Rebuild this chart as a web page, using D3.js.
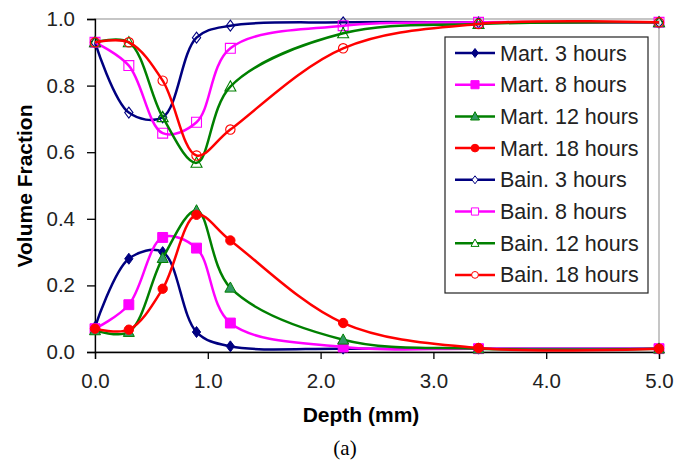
<!DOCTYPE html>
<html>
<head>
<meta charset="utf-8">
<script src="https://cdn.jsdelivr.net/npm/d3@7/dist/d3.min.js"></script>
<style>
  body { margin: 0; background: #fff; }
  text { font-family: "Liberation Sans", Arial, sans-serif; }
</style>
</head>
<body>
<div id="chart"></div>
<script>
// depth of each measurement (mm)
const depth = [0, 0.3, 0.6, 0.9, 1.2, 2.2, 3.4, 5.0];

// martensite volume fraction
const mart3  = [0.075, 0.28, 0.30, 0.06, 0.017, 0.01, 0.01, 0.01];
const mart8  = [0.07, 0.142, 0.344, 0.312, 0.087, 0.015, 0.01, 0.01];
const mart12 = [0.065, 0.06, 0.282, 0.425, 0.193, 0.037, 0.01, 0.01];
const mart18 = [0.07, 0.067, 0.19, 0.412, 0.335, 0.087, 0.012, 0.01];

// bainite volume fraction
const bain3  = [0.93, 0.719, 0.705, 0.944, 0.98, 0.99, 0.99, 0.99];
const bain8  = [0.93, 0.86, 0.657, 0.69, 0.912, 0.98, 0.99, 0.99];
const bain12 = [0.93, 0.93, 0.705, 0.568, 0.797, 0.957, 0.985, 0.99];
const bain18 = [0.93, 0.93, 0.815, 0.59, 0.668, 0.912, 0.985, 0.99];

const seriesNames = ["Mart. 3 hours", "Mart. 8 hours", "Mart. 12 hours", "Mart. 18 hours",
                     "Bain. 3 hours", "Bain. 8 hours", "Bain. 12 hours", "Bain. 18 hours"];
const xTicks = [0, 1, 2, 3, 4, 5];
const yTicks = [0, 0.2, 0.4, 0.6, 0.8, 1.0];

const width = 689, height = 465;
const margin = {top: 19, right: 30, bottom: 113, left: 95};

const svg = d3.select("#chart").append("svg")
    .attr("width", width)
    .attr("height", height);

const x = d3.scaleLinear().domain([0, 5]).range([margin.left, width - margin.right]);
const y = d3.scaleLinear().domain([0, 1]).range([height - margin.bottom, margin.top]);

const values = [mart3, mart8, mart12, mart18, bain3, bain8, bain12, bain18];
const colors = ["#000080", "#ff00ff", "#008000", "#ff0000", "#000080", "#ff00ff", "#008000", "#ff0000"];
const fills  = ["#000080", "#ff00ff", "#339966", "#ff0000", "none", "none", "none", "none"];
const shapes = ["diamond", "square", "triangle", "circle", "diamond", "square", "triangle", "circle"];

const series = seriesNames.map((name, i) => ({
    name: name,
    color: colors[i],
    fill: fills[i],
    shape: shapes[i],
    points: depth.map((d, j) => ({x: d, y: values[i][j]}))
}));

function markerPath(shape, r){
    if(shape === "diamond") return `M0,${-r}L${r*0.75},0L0,${r}L${-r*0.75},0Z`;
    if(shape === "square") return `M${-r*0.9},${-r*0.9}H${r*0.9}V${r*0.9}H${-r*0.9}Z`;
    if(shape === "triangle") return `M0,${-r*1.05}L${r},${r*0.8}L${-r},${r*0.8}Z`;
    return d3.arc()({innerRadius: 0, outerRadius: r*0.85, startAngle: 0, endAngle: 2*Math.PI});
}

// plot area border (gray top / right)
svg.append("rect")
    .attr("x", x(0)).attr("y", y(1))
    .attr("width", x(5) - x(0)).attr("height", y(0) - y(1))
    .attr("fill", "none").attr("stroke", "#a0a0a0").attr("stroke-width", 1.2);

// Add X axis
const xAxis = svg.append("g")
    .attr("transform", "translate(0," + y(0) + ")")
    .call(d3.axisBottom(x).tickValues(xTicks).tickFormat(d3.format(".1f")).tickSize(7).tickPadding(14));

// Add Y axis
const yAxis = svg.append("g")
    .attr("transform", "translate(" + x(0) + ",0)")
    .call(d3.axisLeft(y).tickValues(yTicks).tickFormat(d3.format(".1f")).tickSize(8).tickPadding(12));

[xAxis, yAxis].forEach(a => {
    a.select(".domain").attr("stroke", "#000").attr("stroke-width", 1.3);
    a.selectAll(".tick line").attr("stroke", "#000").attr("stroke-width", 1.3);
    a.selectAll(".tick text")
        .attr("fill", "#222")
        .style("font-size", "20.5px")
        .style("font-family", "'Liberation Sans', Arial, sans-serif");
});

const line = d3.line()
    .x(d => x(d.x))
    .y(d => y(d.y))
    .curve(d3.curveCatmullRom.alpha(0.5));

series.forEach(s => {
    const g = svg.append("g");
    g.append("path")
        .datum(s.points)
        .attr("d", line)
        .attr("fill", "none")
        .attr("stroke", s.color)
        .attr("stroke-width", 2.5);
    g.selectAll("path.mk")
        .data(s.points)
        .enter()
        .append("path")
        .attr("class", "mk")
        .attr("transform", d => "translate(" + x(d.x) + "," + y(d.y) + ")")
        .attr("d", markerPath(s.shape, 5.5))
        .attr("fill", s.fill)
        .attr("stroke", s.color)
        .attr("stroke-width", s.fill === "none" ? 1.1 : 1);
});

// axis titles
svg.append("text")
    .attr("x", 361).attr("y", 422)
    .attr("text-anchor", "middle")
    .style("font-size", "21px").style("font-weight", "bold")
    .attr("fill", "#000")
    .text("Depth (mm)");

svg.append("text")
    .attr("transform", "translate(32,186) rotate(-90)")
    .attr("text-anchor", "middle")
    .style("font-size", "21px").style("font-weight", "bold")
    .attr("fill", "#000")
    .text("Volume Fraction");

svg.append("text")
    .attr("x", 345).attr("y", 455)
    .attr("text-anchor", "middle")
    .style("font-size", "21px")
    .style("font-family", "'Liberation Serif', 'Times New Roman', serif")
    .attr("fill", "#000")
    .text("(a)");

// legend
const legend = svg.append("g");
legend.append("rect")
    .attr("x", 445).attr("y", 37)
    .attr("width", 203).attr("height", 256)
    .attr("fill", "#fff").attr("stroke", "#222").attr("stroke-width", 1.2);

series.forEach((s, i) => {
    const ly = 53 + i * 31.7;
    const row = legend.append("g").attr("transform", "translate(0," + ly + ")");
    row.append("line")
        .attr("x1", 455).attr("x2", 495)
        .attr("stroke", s.color).attr("stroke-width", 2.5);
    row.append("path")
        .attr("transform", "translate(475,0)")
        .attr("d", markerPath(s.shape, s.fill === "none" ? 4 : 4.5))
        .attr("fill", s.fill === "none" ? "#fff" : s.fill)
        .attr("stroke", s.color)
        .attr("stroke-width", 1);
    row.append("text")
        .attr("x", 500).attr("y", 0).attr("dy", "0.35em")
        .style("font-size", "21.5px")
        .attr("fill", "#222")
        .text(s.name);
});
</script>
</body>
</html>
